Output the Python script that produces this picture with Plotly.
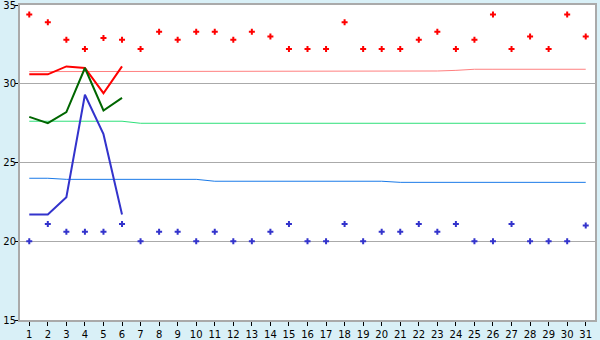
import plotly.graph_objects as go

days = list(range(1, 32))
hi_pts = [34.4, 33.9, 32.8, 32.2, 32.9, 32.8, 32.2, 33.3, 32.8, 33.3,
          33.3, 32.8, 33.3, 33.0, 32.2, 32.2, 32.2, 33.9, 32.2, 32.2,
          32.2, 32.8, 33.3, 32.2, 32.8, 34.4, 32.2, 33.0, 32.2, 34.4, 33.0]
lo_pts = [20.0, 21.1, 20.6, 20.6, 20.6, 21.1, 20.0, 20.6, 20.6, 20.0,
          20.6, 20.0, 20.0, 20.6, 21.1, 20.0, 20.0, 21.1, 20.0, 20.6,
          20.6, 21.1, 20.6, 21.1, 20.0, 20.0, 21.1, 20.0, 20.0, 20.0, 21.0]
obs_days = [1, 2, 3, 4, 5, 6]
obs_hi = [30.6, 30.6, 31.1, 31.0, 29.4, 31.1]
obs_mid = [27.9, 27.5, 28.2, 31.0, 28.3, 29.1]
obs_lo = [21.7, 21.7, 22.8, 29.3, 26.8, 21.7]
avg_hi = [30.77] * 8 + [30.81] * 15 + [30.85] + [30.92] * 7
avg_mid = [27.62] * 6 + [27.49] * 25
avg_lo = [24.0] * 2 + [23.93] * 8 + [23.81] * 10 + [23.74] * 11

fig = go.Figure()
fig.add_trace(go.Scatter(x=days, y=avg_hi, mode="lines", line=dict(color="#ff8080", width=1)))
fig.add_trace(go.Scatter(x=days, y=avg_mid, mode="lines", line=dict(color="#2ee07a", width=1)))
fig.add_trace(go.Scatter(x=days, y=avg_lo, mode="lines", line=dict(color="#1a7ae8", width=1)))
fig.add_trace(go.Scatter(x=obs_days, y=obs_hi, mode="lines", line=dict(color="#ff0000", width=2)))
fig.add_trace(go.Scatter(x=obs_days, y=obs_mid, mode="lines", line=dict(color="#006600", width=2)))
fig.add_trace(go.Scatter(x=obs_days, y=obs_lo, mode="lines", line=dict(color="#3333cc", width=2)))
fig.add_trace(go.Scatter(x=days, y=hi_pts, mode="markers",
                         marker=dict(symbol="cross", size=5, color="#ff0000")))
fig.add_trace(go.Scatter(x=days, y=lo_pts, mode="markers",
                         marker=dict(symbol="cross", size=5, color="#3333cc")))

fig.update_layout(
    width=600, height=340,
    margin=dict(l=20, r=5, t=5, b=20),
    paper_bgcolor="#d9f0f7",
    plot_bgcolor="#ffffff",
    showlegend=False,
    font=dict(family="DejaVu Sans", size=10, color="#000000"),
)
fig.update_xaxes(range=[0.5, 31.5], tickmode="array", tickvals=days,
                 ticktext=[str(d) for d in days], automargin=False,
                 ticklabeloverflow="allow",
                 ticks="outside", ticklen=4, tickcolor="#000000",
                 showline=True, linecolor="#aaaaaa", linewidth=2, mirror=True,
                 showgrid=False, zeroline=False, tickfont=dict(size=10))
fig.update_yaxes(range=[15, 35], tickvals=[15, 20, 25, 30, 35], automargin=False,
                 ticklabeloverflow="allow", ticklabelstandoff=-3,
                 ticks="outside", ticklen=3, tickcolor="#000000",
                 showline=True, linecolor="#aaaaaa", linewidth=2, mirror=True,
                 showgrid=True, gridcolor="#aaaaaa", gridwidth=1, zeroline=False,
                 tickfont=dict(size=10))

fig.write_html("out.html")
